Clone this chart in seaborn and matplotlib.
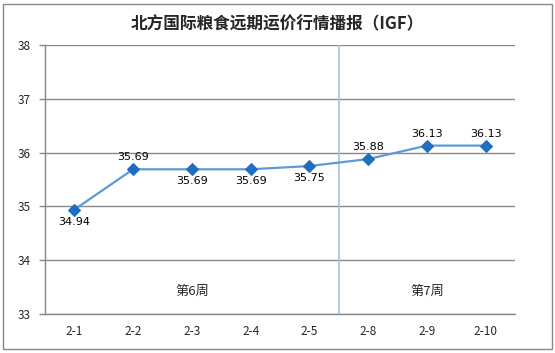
import matplotlib
matplotlib.use('Agg')
import matplotlib.pyplot as plt
import seaborn as sns
import pandas as pd
from matplotlib.patches import Rectangle

# 数据
dates = ['2-1', '2-2', '2-3', '2-4', '2-5', '2-8', '2-9', '2-10']
prices = [34.94, 35.69, 35.69, 35.69, 35.75, 35.88, 36.13, 36.13]
label_above = [False, True, False, False, False, True, True, True]
weeks = ['第6周', '第7周']

sns.set_style('white')
plt.rcParams['font.family'] = ['Noto Sans CJK SC', 'DejaVu Sans']

df = pd.DataFrame({'日期': dates, '价格': prices})
df['pos'] = range(len(df))

fig = plt.figure(figsize=(5.55, 3.53), dpi=100)
ax = fig.add_axes([0.081, 0.1105, 0.847, 0.762])

sns.lineplot(data=df, x='pos', y='价格', ax=ax, color='#5B9BD5', linewidth=1.6,
             marker='D', markersize=6, markerfacecolor='#1F6EC0', markeredgecolor='#1F6EC0')

for p, v, up in zip(df['pos'], prices, label_above):
    ax.annotate(f'{v:.2f}', (p, v), xytext=(0, 5 if up else -5), textcoords='offset points',
                ha='center', va='bottom' if up else 'top', fontsize=8, color='black',
                family=['DejaVu Sans'])

ax.set_ylim(33, 38)
ax.set_yticks(range(33, 39))
ax.set_xlim(-0.5, len(dates) - 0.5)
ax.set_xticks(df['pos'])
ax.set_xticklabels(dates)
ax.set_xticks([i - 0.5 for i in range(len(dates) + 1)], minor=True)
ax.tick_params(axis='x', which='major', length=0, pad=8, labelsize=8.5)
ax.tick_params(axis='x', which='minor', length=4, color='#888888', width=1)
ax.tick_params(axis='y', length=4, color='#888888', width=1, labelsize=8.5, left=True, pad=6)
ax.yaxis.grid(True, color='#888888', linewidth=1)
ax.set_axisbelow(True)
for s in ['top', 'right']:
    ax.spines[s].set_visible(False)
for s in ['left', 'bottom']:
    ax.spines[s].set_color('#888888')
    ax.spines[s].set_linewidth(1)
ax.set_xlabel('')
ax.set_ylabel('')

# 周分隔线
ax.axvline(4.5, color='#9DC3E6', linewidth=1.2, zorder=1)
ax.text(2.0, 33.3, weeks[0], ha='center', va='bottom', fontsize=9.5)
ax.text(6.0, 33.3, weeks[1], ha='center', va='bottom', fontsize=9.5)

fig.text(0.5, 0.93, '北方国际粮食远期运价行情播报（IGF）', ha='center', va='center',
         fontsize=12, fontweight='bold')

fig.patches.append(Rectangle((0.006, 0.01), 0.988, 0.98, transform=fig.transFigure,
                             fill=False, edgecolor='#888888', linewidth=1))

fig.savefig('out.png', dpi=100)
